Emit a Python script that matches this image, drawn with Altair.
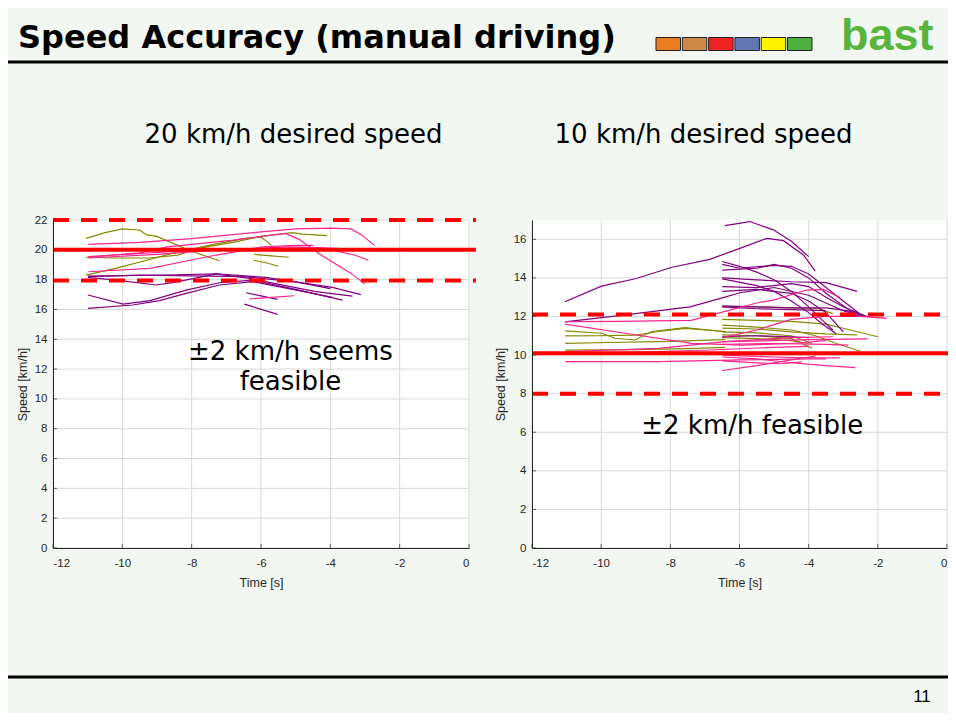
import altair as alt
import pandas as pd

# ---------------- data ----------------
X_TICKS = [-12, -10, -8, -6, -4, -2, 0]
LEFT_Y_TICKS = [0, 2, 4, 6, 8, 10, 12, 14, 16, 18, 20, 22]
RIGHT_Y_TICKS = [0, 2, 4, 6, 8, 10, 12, 14, 16]
LEFT_Y_MAX = 22
RIGHT_Y_MAX = 17

LEFT_RED_SOLID = [20.0]
LEFT_RED_DASHED = [22.0, 17.95]
RIGHT_RED_SOLID = [10.1]
RIGHT_RED_DASHED = [12.1, 8.0]
RED_T = [-12, 0.2]

LEFT_OLIVE = [
    [(-11.05, 20.77), (-10.5, 21.15), (-10.0, 21.4), (-9.5, 21.33), (-9.3, 21.0), (-9.0, 20.9), (-8.6, 20.5), (-8.0, 19.9), (-7.2, 19.27)],
    [(-11.05, 19.5), (-10.2, 19.45), (-9.2, 19.45), (-8.4, 19.65), (-7.8, 20.1), (-6.7, 20.55), (-6.0, 20.9), (-5.1, 21.15), (-4.8, 21.05), (-4.1, 20.95)],
    [(-11.05, 18.3), (-10.2, 18.76), (-9.3, 19.3), (-8.5, 19.8), (-7.5, 20.3), (-6.5, 20.75), (-6.0, 20.85), (-5.85, 20.6), (-5.7, 20.3)],
    [(-6.2, 19.7), (-5.7, 19.6), (-5.2, 19.5)],
    [(-6.2, 19.3), (-5.8, 19.1), (-5.5, 18.9)],
]
LEFT_PURPLE = [
    [(-10.99, 18.24), (-8.74, 18.31), (-7.3, 18.38), (-5.86, 18.15), (-3.94, 17.48), (-3.12, 17.0)],
    [(-10.99, 18.15), (-10.18, 17.97), (-9.02, 17.64), (-8.55, 17.8), (-7.78, 18.15), (-7.3, 18.38), (-6.34, 18.08), (-4.42, 17.19), (-3.36, 16.9)],
    [(-10.99, 16.97), (-9.98, 16.36), (-9.2, 16.59), (-8.16, 17.3), (-7.2, 17.79), (-6.24, 17.97), (-4.9, 17.3), (-3.65, 16.63)],
    [(-10.99, 16.07), (-9.7, 16.3), (-8.93, 16.59), (-8.16, 17.08), (-7.2, 17.64), (-6.24, 17.86), (-5.09, 17.35), (-3.94, 16.81)],
    [(-6.43, 17.12), (-5.52, 16.68)],
    [(-6.48, 16.36), (-5.52, 15.67)],
    [(-10.99, 18.2), (-9.5, 18.3), (-8.0, 18.25), (-6.5, 18.2), (-5.0, 17.85), (-4.0, 17.4)],
]
LEFT_PINK = [
    [(-10.98, 20.37), (-9.5, 20.5), (-8.0, 20.75), (-6.0, 21.2), (-5.0, 21.4), (-4.0, 21.45), (-3.4, 21.4), (-3.1, 21.0), (-2.73, 20.3)],
    [(-10.98, 19.5), (-9.5, 19.8), (-8.7, 20.2), (-6.8, 20.65), (-5.3, 21.1), (-4.9, 20.7), (-4.27, 19.65), (-3.4, 18.42), (-3.0, 17.7)],
    [(-10.98, 19.45), (-9.0, 19.7), (-7.5, 19.95), (-6.2, 20.1), (-5.2, 20.2), (-4.3, 20.15), (-3.3, 19.65), (-2.9, 19.3)],
    [(-10.98, 19.55), (-8.5, 19.9), (-6.5, 20.05), (-4.5, 20.15), (-3.2, 20.05), (-3.0, 20.0)],
    [(-10.98, 18.53), (-9.2, 18.76), (-8.25, 19.2), (-7.29, 19.65), (-5.95, 20.2), (-5.0, 20.3), (-4.5, 20.3)],
    [(-6.34, 16.7), (-5.8, 16.8), (-5.04, 16.92)],
]

RIGHT_OLIVE = [
    [(-11.04, 11.25), (-9.98, 11.13), (-9.6, 10.87), (-9.02, 10.78), (-8.54, 11.22), (-7.57, 11.42), (-6.9, 11.3), (-6.4, 11.2)],
    [(-11.04, 10.99), (-10.08, 11.0), (-9.0, 11.03), (-8.34, 11.22), (-7.57, 11.38), (-6.41, 11.22)],
    [(-11.04, 10.61), (-9.79, 10.65), (-8.34, 10.7), (-6.41, 10.8)],
    [(-11.04, 10.26), (-9.0, 10.28), (-7.5, 10.33), (-6.41, 10.4)],
    [(-6.5, 12.5), (-5.5, 12.5), (-4.5, 12.45), (-3.7, 12.4), (-3.3, 12.15)],
    [(-6.5, 11.85), (-5.5, 11.8), (-4.5, 11.75), (-3.5, 11.6), (-2.8, 11.3), (-2.0, 10.95)],
    [(-6.5, 11.55), (-5.5, 11.45), (-4.5, 11.3), (-3.8, 11.0), (-3.2, 10.6), (-2.5, 10.2)],
    [(-6.5, 11.4), (-5.5, 11.35), (-4.5, 11.2), (-3.5, 11.1), (-2.6, 11.05)],
    [(-6.5, 11.2), (-5.5, 11.15), (-4.5, 11.0), (-3.9, 10.6)],
    [(-6.5, 11.05), (-5.5, 11.0), (-4.5, 10.85), (-3.9, 10.35)],
    [(-6.5, 10.9), (-5.5, 10.85), (-4.5, 10.75), (-4.0, 10.6)],
]
RIGHT_PURPLE = [
    [(-11.05, 12.76), (-9.99, 13.57), (-8.98, 13.97), (-7.98, 14.54), (-6.86, 14.96), (-5.99, 15.53), (-5.21, 16.05), (-4.73, 15.93), (-4.15, 15.19), (-3.81, 14.35)],
    [(-6.42, 16.71), (-5.7, 16.92), (-5.02, 16.49), (-4.5, 15.9), (-4.0, 15.1)],
    [(-11.05, 11.72), (-9.36, 12.07), (-7.43, 12.5), (-6.47, 12.98), (-5.99, 13.23), (-5.0, 13.5), (-4.0, 13.1), (-3.0, 12.3), (-2.5, 12.0)],
    [(-6.5, 14.85), (-6.0, 14.6), (-5.5, 14.3), (-5.0, 13.9), (-4.5, 13.3), (-4.0, 12.5), (-3.6, 11.8), (-3.3, 11.3)],
    [(-6.5, 14.7), (-6.0, 14.5), (-5.0, 14.65), (-4.5, 14.6), (-4.0, 14.2), (-3.5, 13.5), (-3.0, 12.8), (-2.5, 12.1)],
    [(-6.5, 14.4), (-5.5, 14.5), (-5.0, 14.7), (-4.5, 14.5), (-4.0, 14.0), (-3.5, 13.2), (-2.8, 12.3), (-2.3, 12.0)],
    [(-6.5, 14.0), (-5.5, 13.9), (-4.5, 13.8), (-3.5, 13.75), (-2.6, 13.3)],
    [(-6.5, 13.95), (-5.5, 13.6), (-5.0, 13.3), (-4.5, 12.8), (-4.0, 12.2), (-3.6, 11.6), (-3.2, 11.1)],
    [(-6.5, 13.55), (-5.5, 13.5), (-4.5, 13.7), (-4.0, 13.55), (-3.5, 13.0), (-3.0, 12.5), (-2.4, 12.05)],
    [(-6.5, 13.3), (-5.5, 13.4), (-4.5, 13.2), (-4.0, 12.8), (-3.5, 12.2), (-3.2, 11.6), (-3.0, 11.2)],
    [(-6.5, 12.55), (-5.5, 12.5), (-4.5, 12.45), (-3.5, 12.45), (-2.9, 12.3), (-2.4, 12.0)],
    [(-6.5, 12.5), (-5.5, 12.4), (-4.5, 12.35), (-3.5, 12.3)],
    [(-6.5, 10.95), (-5.5, 11.0), (-4.5, 10.95), (-4.0, 10.9)],
]
RIGHT_PINK = [
    [(-11.04, 11.73), (-9.5, 11.75), (-7.4, 11.8), (-6.47, 12.24), (-5.5, 12.7), (-5.02, 12.85), (-4.06, 13.37), (-3.58, 13.4), (-3.09, 12.98)],
    [(-11.04, 11.6), (-9.31, 11.13), (-7.38, 10.61), (-5.93, 10.52), (-4.5, 10.6), (-3.5, 10.75)],
    [(-11.04, 10.18), (-8.34, 10.35), (-6.41, 10.7), (-4.5, 10.9), (-3.3, 10.95)],
    [(-11.04, 9.66), (-8.34, 9.66), (-5.93, 9.75), (-4.0, 9.8), (-3.5, 9.8)],
    [(-11.04, 10.1), (-9.0, 10.15), (-7.0, 10.25), (-5.0, 10.4), (-4.0, 10.45)],
    [(-6.5, 10.9), (-5.5, 11.3), (-4.5, 11.85), (-3.5, 12.0), (-2.5, 12.0), (-1.75, 11.9)],
    [(-6.5, 10.7), (-5.0, 10.75), (-4.0, 10.8), (-2.3, 10.84)],
    [(-6.5, 10.55), (-5.0, 10.6), (-3.5, 10.55), (-2.85, 10.52)],
    [(-6.5, 9.2), (-5.5, 9.45), (-4.5, 9.75), (-3.8, 9.95)],
    [(-6.5, 9.9), (-5.5, 9.8), (-4.5, 9.6), (-3.5, 9.45), (-2.65, 9.35)],
    [(-6.5, 10.0), (-5.0, 9.9), (-4.0, 9.85), (-3.1, 9.85)],
    [(-6.5, 9.7), (-5.5, 9.6), (-4.8, 9.55), (-4.2, 9.65)],
]

GROUPS = ["olive", "purple", "pink"]
GROUP_COLORS = ["#878700", "#800080", "#F5248C"]

TITLE = "Speed Accuracy (manual driving)"
LEFT_HEAD = "20 km/h desired speed"
RIGHT_HEAD = "10 km/h desired speed"
LEFT_NOTE = ["\u00b12 km/h seems", "feasible"]
LEFT_NOTE_POS = (-5.15, 13.15)
RIGHT_NOTE = "\u00b12 km/h feasible"
RIGHT_NOTE_POS = (-5.63, 6.3)
PAGE_NO = "11"
LOGO = "bast"
BOX_COLORS = ["#E87D1E", "#CD8749", "#EE2524", "#6577B3", "#FFF200", "#4DAF3F"]

# ---------------- layout ----------------
W, H = 940, 705
BG = "#F2F8F1"
AXC = "#262626"
ONE = alt.Data(values=[{}])


def deco_text(s, x, y, size, font, weight="normal", color="black", align="left", baseline="alphabetic"):
    return alt.Chart(ONE).mark_text(
        text=s, font=font, fontSize=size, fontWeight=weight, color=color,
        align=align, baseline=baseline
    ).encode(x=alt.value(x), y=alt.value(y))


def traces_df(groups):
    rows = []
    for grp, trs in groups:
        for i, tr in enumerate(trs):
            for j, (t, v) in enumerate(tr):
                rows.append({"id": f"{grp}{i}", "grp": grp, "t": t, "v": v, "o": j})
    return pd.DataFrame(rows)


def panel(xr, yr, ymax, yticks, groups, solid, dashed, note, note_pos, note_lh, ytitle_x):
    xs = alt.Scale(domain=[-12, 0], range=xr, nice=False, zero=False)
    ys = alt.Scale(domain=[0, ymax], range=yr, nice=False, zero=False)
    X = lambda f: alt.X(f, scale=xs, axis=None)
    Y = lambda f: alt.Y(f, scale=ys, axis=None)
    layers = []
    bg = alt.Chart(pd.DataFrame({"t0": [-12], "t1": [0], "v0": [0], "v1": [ymax]})).mark_rect(
        fill="white").encode(
        x=alt.X("t0:Q", scale=xs, axis=alt.Axis(
            orient="bottom", offset=-(H - yr[0]), values=X_TICKS, grid=False, ticks=False,
            tickSize=0, labelPadding=9, labelFont="Liberation Sans", labelFontSize=11.5,
            labelColor=AXC, domainColor=AXC, labelExpr="'' + datum.value",
            title="Time [s]", titleFont="Liberation Sans", titleFontSize=12.5,
            titleFontWeight="normal", titleColor=AXC, titleBaseline="middle", titleY=34,
            zindex=1)),
        x2="t1",
        y=alt.Y("v0:Q", scale=ys, axis=alt.Axis(
            orient="left", offset=-xr[0], values=yticks, grid=False, ticks=False,
            tickSize=0, labelPadding=6, labelFont="Liberation Sans", labelFontSize=11.5,
            labelColor=AXC, domainColor=AXC,
            title="Speed [km/h]", titleFont="Liberation Sans", titleFontSize=12.5,
            titleFontWeight="normal", titleColor=AXC, titleAngle=270,
            titleAlign="center", titleBaseline="middle",
            titleX=ytitle_x, titleY=(yr[0] + yr[1]) / 2, zindex=1)),
        y2="v1",
    )
    layers.append(bg)
    vg = pd.DataFrame({"t": X_TICKS, "v0": [0] * len(X_TICKS), "v1": [ymax] * len(X_TICKS)})
    layers.append(alt.Chart(vg).mark_rule(color="#D8D8D8", strokeWidth=1).encode(
        x=X("t:Q"), y=Y("v0:Q"), y2="v1"))
    hg = pd.DataFrame({"v": yticks, "t0": [-12] * len(yticks), "t1": [0] * len(yticks)})
    layers.append(alt.Chart(hg).mark_rule(color="#D8D8D8", strokeWidth=1).encode(
        y=Y("v:Q"), x=X("t0:Q"), x2="t1"))
    xt = pd.DataFrame({"t": X_TICKS, "v": [0] * len(X_TICKS)})
    layers.append(alt.Chart(xt).mark_tick(orient="vertical", size=4, thickness=1, yOffset=-2,
                                          color=AXC).encode(x=X("t:Q"), y=Y("v:Q")))
    yt = pd.DataFrame({"v": yticks, "t": [-12] * len(yticks)})
    layers.append(alt.Chart(yt).mark_tick(orient="horizontal", size=4, thickness=1, xOffset=2,
                                          color=AXC).encode(x=X("t:Q"), y=Y("v:Q")))
    df = traces_df(groups)
    layers.append(alt.Chart(df).mark_line(strokeWidth=1.2).encode(
        x=X("t:Q"), y=Y("v:Q"),
        color=alt.Color("grp:N", scale=alt.Scale(domain=GROUPS, range=GROUP_COLORS), legend=None),
        detail="id:N", order=alt.Order("o:Q")))
    sd = pd.DataFrame({"v": solid, "t0": [RED_T[0]] * len(solid), "t1": [RED_T[1]] * len(solid)})
    layers.append(alt.Chart(sd).mark_rule(color="#FF0000", strokeWidth=4).encode(
        y=Y("v:Q"), x=X("t0:Q"), x2="t1"))
    dd = pd.DataFrame({"v": dashed, "t0": [RED_T[0]] * len(dashed), "t1": [RED_T[1]] * len(dashed)})
    layers.append(alt.Chart(dd).mark_rule(color="#FF0000", strokeWidth=4, strokeDash=[16, 12]).encode(
        y=Y("v:Q"), x=X("t0:Q"), x2="t1"))
    nd = pd.DataFrame({"t": [note_pos[0]], "v": [note_pos[1]]})
    layers.append(alt.Chart(nd).mark_text(
        text=note, font="DejaVu Sans", fontSize=26, color="black", align="center",
        baseline="middle", lineHeight=note_lh).encode(x=X("t:Q"), y=Y("v:Q")))
    return layers


left = panel([45, 461], [540, 212], LEFT_Y_MAX, LEFT_Y_TICKS,
             [("olive", LEFT_OLIVE), ("purple", LEFT_PURPLE), ("pink", LEFT_PINK)],
             LEFT_RED_SOLID, LEFT_RED_DASHED, LEFT_NOTE, LEFT_NOTE_POS, 30, -31)
right = panel([524, 939], [540, 212], RIGHT_Y_MAX, RIGHT_Y_TICKS,
              [("olive", RIGHT_OLIVE), ("purple", RIGHT_PURPLE), ("pink", RIGHT_PINK)],
              RIGHT_RED_SOLID, RIGHT_RED_DASHED, RIGHT_NOTE, RIGHT_NOTE_POS, 30, -32)

deco = []
deco.append(alt.Chart(ONE).mark_rule(color="black", strokeWidth=3).encode(
    x=alt.value(0), x2=alt.value(W), y=alt.value(54)))
deco.append(alt.Chart(ONE).mark_rule(color="black", strokeWidth=3).encode(
    x=alt.value(0), x2=alt.value(W), y=alt.value(669)))
deco.append(deco_text(TITLE, 10, 40, 32, "DejaVu Sans", weight="bold"))
for i, c in enumerate(BOX_COLORS):
    x0 = 648 + i * 26.3
    deco.append(alt.Chart(ONE).mark_rect(fill=c, stroke="#222222", strokeWidth=1).encode(
        x=alt.value(x0), x2=alt.value(x0 + 24.5), y=alt.value(29.5), y2=alt.value(42.5)))
deco.append(deco_text(LOGO, 833, 42, 45, "Liberation Sans", weight="bold", color="#58B43C"))
deco.append(deco_text(LEFT_HEAD, 285.5, 127, 26, "DejaVu Sans", align="center", baseline="middle"))
deco.append(deco_text(RIGHT_HEAD, 695.5, 127, 26, "DejaVu Sans", align="center", baseline="middle"))
deco.append(deco_text(PAGE_NO, 914, 689, 17, "Liberation Sans", align="center", baseline="middle"))

chart = alt.layer(*deco, *left, *right).resolve_scale(
    x="independent", y="independent"
).properties(
    width=W, height=H, autosize=alt.AutoSizeParams(type="none"), padding=0
).configure(background=BG).configure_view(stroke=None)

chart.save("out.html", embed_options={"renderer": "svg", "actions": False})
